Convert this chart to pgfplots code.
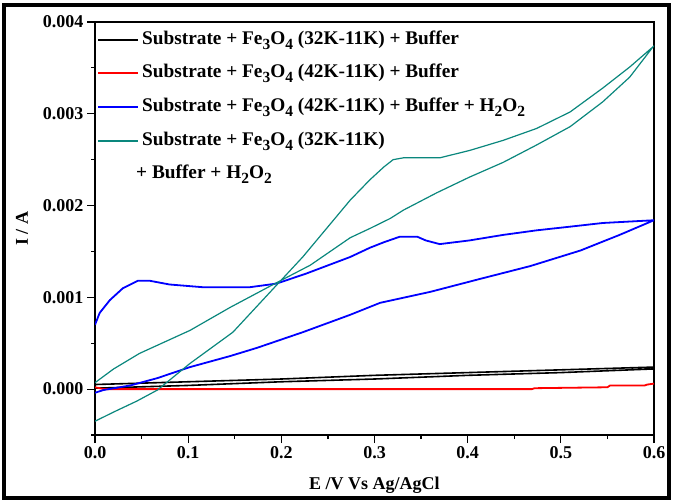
\documentclass[border=0pt]{standalone}
\usepackage{fontspec}
\setmainfont{Liberation Serif}
\usepackage{pgfplots}
\usepackage{pgfplotstable}
\pgfplotsset{compat=1.18}
\definecolor{tealc}{RGB}{10,135,125}
\definecolor{myblue}{RGB}{0,0,255}
\definecolor{myred}{RGB}{255,0,0}
\newcommand{\sub}[1]{\raisebox{-0.55ex}{\fontsize{15.5bp}{15.5bp}\selectfont #1}}

\pgfplotstableread{
E I
0.000 0.00001
0.100 0.00004
0.200 0.00008
0.300 0.00011
0.400 0.00015
0.500 0.00018
0.600 0.00022
0.600 0.00024
0.500 0.00021
0.400 0.00018
0.300 0.00015
0.200 0.00011
0.100 0.00008
0.000 0.00005
}\blackcv

\pgfplotstableread{
E I
0.000 0.00002
0.010 0.00000
0.469 0.00000
0.472 0.00001
0.550 0.00002
0.553 0.00004
0.590 0.00004
0.593 0.00005
0.600 0.00006
}\redcv

\pgfplotstableread{
E I
0.000 -0.00004
0.009 -0.00001
0.038 0.00004
0.067 0.00012
0.102 0.00024
0.145 0.00036
0.174 0.00045
0.223 0.00062
0.274 0.00081
0.306 0.00094
0.360 0.00106
0.413 0.00120
0.467 0.00134
0.521 0.00151
0.563 0.00168
0.600 0.00184
0.545 0.00181
0.510 0.00177
0.474 0.00173
0.438 0.00168
0.402 0.00162
0.370 0.00158
0.355 0.00162
0.346 0.00166
0.327 0.00166
0.310 0.00160
0.295 0.00154
0.274 0.00144
0.227 0.00126
0.195 0.00115
0.166 0.00111
0.116 0.00111
0.080 0.00114
0.059 0.00118
0.046 0.00118
0.030 0.00110
0.016 0.00097
0.005 0.00083
0.000 0.00070
}\bluecv

\pgfplotstableread{
E I
0.000 -0.00035
0.020 -0.00025
0.045 -0.00013
0.067 -0.00001
0.102 0.00028
0.148 0.00062
0.180 0.00097
0.223 0.00144
0.274 0.00206
0.295 0.00228
0.310 0.00242
0.320 0.00250
0.331 0.00252
0.349 0.00252
0.370 0.00252
0.402 0.00260
0.438 0.00271
0.474 0.00284
0.510 0.00302
0.545 0.00328
0.574 0.00351
0.599 0.00373
0.574 0.00340
0.545 0.00313
0.510 0.00286
0.474 0.00266
0.438 0.00247
0.402 0.00231
0.367 0.00214
0.331 0.00195
0.317 0.00186
0.295 0.00175
0.274 0.00165
0.231 0.00135
0.195 0.00116
0.145 0.00089
0.102 0.00064
0.048 0.00039
0.020 0.00022
0.000 0.00007
}\tealcv

\begin{document}
\begin{tikzpicture}[font=\fontsize{18bp}{21bp}\selectfont\bfseries]
\useasboundingbox (0,0) rectangle (675bp,503bp);
\fill[white] (0,0) rectangle (675bp,503bp);
\draw[line width=4bp] (4bp,5bp) rectangle (669bp,497.5bp);
\begin{axis}[
  at={(95bp,68bp)}, anchor=south west,
  scale only axis, width=559bp, height=413bp,
  xmin=0, xmax=0.6, ymin=-0.0005, ymax=0.004,
  xtick={0,0.1,0.2,0.3,0.4,0.5,0.6},
  minor xtick={0.05,0.15,0.25,0.35,0.45,0.55},
  ytick={0,0.001,0.002,0.003,0.004},
  minor ytick={-0.0005,0.0005,0.0015,0.0025,0.0035},
  xtick pos=left, ytick pos=left,
  tick align=outside,
  major tick length=8bp, minor tick length=4bp,
  every tick/.style={black, line width=1.2bp},
  axis line style={line width=1.2bp},
  scaled y ticks=false,
  /pgf/number format/assume math mode=true,
  xticklabel style={/pgf/number format/fixed, /pgf/number format/precision=1, /pgf/number format/fixed zerofill},
  yticklabel style={/pgf/number format/fixed, /pgf/number format/precision=3, /pgf/number format/fixed zerofill},
  xlabel={E /V Vs Ag/AgCl},
  ylabel={I / A},
  xlabel style={at={(axis description cs:0.5,0)}, anchor=center, yshift=-50bp},
  ylabel style={at={(axis description cs:0,0.5)}, anchor=center, yshift=73bp},
  legend style={at={(axis description cs:0,1)}, anchor=north west, draw=none, fill=none,
    inner xsep=0bp, inner ysep=0bp, xshift=2bp, yshift=-8bp, row sep=14.7bp,
    font=\fontsize{19.3bp}{22bp}\selectfont\bfseries,
    nodes={inner xsep=3bp, inner ysep=0bp, text height=14bp, text depth=5bp}},
  legend cell align=left,
  legend image code/.code={\draw[#1] (0bp,0bp) -- (40bp,0bp);},
]
\addplot[draw=black, line width=1.6bp, forget plot] table[x=E,y=I] {\blackcv};
\addplot[draw=myred, line width=1.8bp, forget plot] table[x=E,y=I] {\redcv};
\addplot[draw=myblue, line width=1.8bp, forget plot] table[x=E,y=I] {\bluecv};
\addplot[draw=tealc, line width=1.2bp, forget plot] table[x=E,y=I] {\tealcv};
\addlegendimage{draw=black, line width=2bp}
\addlegendentry{Substrate + Fe\sub{3}O\sub{4} (32K-11K) + Buffer}
\addlegendimage{draw=myred, line width=2bp}
\addlegendentry{Substrate + Fe\sub{3}O\sub{4} (42K-11K) + Buffer}
\addlegendimage{draw=myblue, line width=2bp}
\addlegendentry{Substrate + Fe\sub{3}O\sub{4} (42K-11K) + Buffer + H\sub{2}O\sub{2}}
\addlegendimage{draw=tealc, line width=2bp}
\addlegendentry{Substrate + Fe\sub{3}O\sub{4} (32K-11K)}
\addlegendimage{empty legend}
\addlegendentry{\hspace*{-6bp}+ Buffer + H\sub{2}O\sub{2}}
\end{axis}
\end{tikzpicture}
\end{document}
